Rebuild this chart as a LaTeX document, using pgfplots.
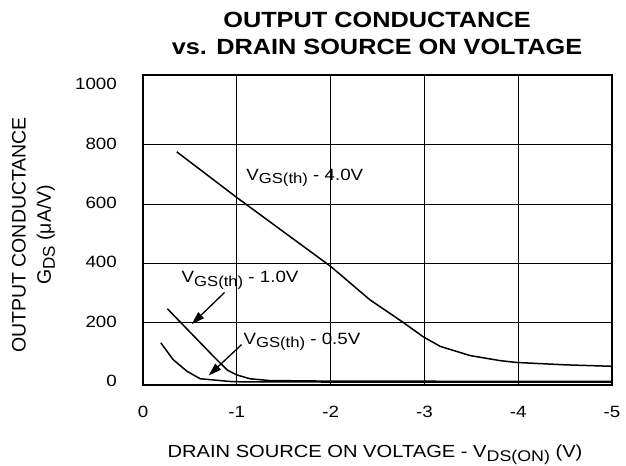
\documentclass[border=0pt]{standalone}
\usepackage{fontspec}
\setmainfont{Liberation Sans}[FakeStretch=1.15]
\newfontfamily\ylabfont{Liberation Sans}
\usepackage{pgfplots}
\pgfplotsset{compat=1.18}
\usetikzlibrary{arrows.meta}
\newcommand\sub[1]{\raisebox{-3.5bp}{\fontsize{14.5bp}{14.5bp}\selectfont #1}}
\newcommand\ysub[1]{\raisebox{-4bp}{\fontsize{17bp}{17bp}\selectfont #1}}
\newcommand\xsub[1]{\raisebox{-4bp}{\fontsize{15.5bp}{15.5bp}\selectfont #1}}
\newcommand\lab{\fontsize{16.3bp}{19bp}\selectfont}
\begin{document}
\begin{tikzpicture}[x=1bp,y=1bp]
\begin{axis}[
  at={(143bp,81bp)}, anchor=south west,
  scale only axis, width=469bp, height=310bp,
  xmin=-5, xmax=0, x dir=reverse,
  ymin=-10, ymax=1035,
  xtick={0,-1,-2,-3,-4,-5}, xticklabels={0,-1,-2,-3,-4,-5},
  ytick={0,200,400,600,800,1000}, yticklabels={0,200,400,600,800,1000},
  major tick length=0pt,
  extra x ticks={-1,-2,-3,-4}, extra x tick labels={},
  extra y ticks={200,400,600,800}, extra y tick labels={},
  extra tick style={grid=major},
  major grid style={black, line width=0.9bp},
  axis line style={line width=2bp},
  xticklabel style={anchor=base, inner sep=0pt, yshift=-32.5bp, font=\lab},
  yticklabel style={anchor=east, inner sep=0pt, xshift=-26bp, yshift=1bp, font=\lab},
  clip=false,
]
\addplot[black, line width=1.5bp] coordinates {
(-0.36,776) (-1.0,622) (-2.0,390) (-2.42,277) (-2.76,204) (-2.99,152)
(-3.17,120) (-3.49,89) (-3.81,72) (-3.98,66) (-4.5,58) (-5,53)};
\addplot[black, line width=1.5bp] coordinates {
(-0.26,247) (-0.75,87) (-0.9,40) (-1.0,24) (-1.14,11) (-1.35,5) (-2,3) (-5,2)};
\addplot[black, line width=1.5bp] coordinates {
(-0.19,132) (-0.32,76) (-0.47,36) (-0.61,11) (-0.96,1) (-2,0) (-5,0)};
\node[anchor=base west, inner sep=0pt, font=\lab] at (axis cs:-1.10,681) {V\sub{GS(th)} - 4.0V};
\node[anchor=base west, inner sep=0pt, font=\lab] at (axis cs:-0.41,334) {V\sub{GS(th)} - 1.0V};
\node[anchor=base west, inner sep=0pt, font=\lab] at (axis cs:-1.07,128) {V\sub{GS(th)} - 0.5V};
\draw[-{Triangle[length=13bp,width=8bp]}, line width=1.3bp] (axis cs:-0.87,302) -- (axis cs:-0.52,195);
\draw[-{Triangle[length=13bp,width=8bp]}, line width=1.3bp] (axis cs:-1.05,126) -- (axis cs:-0.70,22);
\end{axis}
\node[anchor=base, inner sep=0pt, font=\bfseries\fontsize{22bp}{26bp}\selectfont] at (377,438) {OUTPUT CONDUCTANCE};
\node[anchor=base, inner sep=0pt, font=\bfseries\fontsize{22bp}{26bp}\selectfont] at (377,411) {vs. DRAIN SOURCE ON VOLTAGE};
\node[rotate=90, inner sep=0pt, font=\ylabfont\fontsize{19.5bp}{22bp}\selectfont] at (19,231) {OUTPUT CONDUCTANCE};
\node[rotate=90, inner sep=0pt, font=\ylabfont\fontsize{19.5bp}{22bp}\selectfont] at (46,231) {G\ysub{DS} (μA/V)};
\node[anchor=base, inner sep=0pt, font=\fontsize{17.5bp}{20bp}\selectfont] at (375,8) {DRAIN SOURCE ON VOLTAGE - V\xsub{DS(ON)} (V)};
\pgfresetboundingbox
\useasboundingbox (0,0) rectangle (626,466);
\end{tikzpicture}
\end{document}
